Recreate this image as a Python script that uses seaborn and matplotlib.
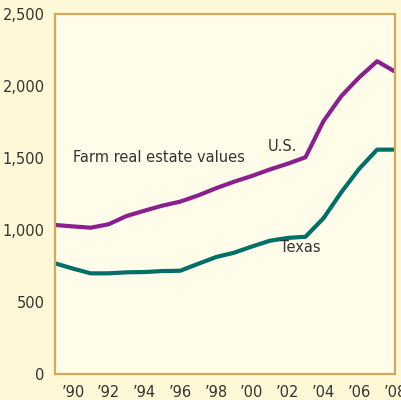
import matplotlib
matplotlib.use("Agg")
import matplotlib.pyplot as plt
import seaborn as sns
import pandas as pd
from matplotlib.ticker import MultipleLocator, FuncFormatter

years = list(range(1989, 2009))
us_values = [1035, 1025, 1016, 1040, 1097, 1134, 1169, 1197, 1240, 1290, 1335,
             1375, 1420, 1460, 1505, 1755, 1930, 2060, 2172, 2100]
texas_values = [769, 732, 699, 699, 706, 708, 715, 717, 765, 812, 842,
                885, 925, 945, 953, 1081, 1262, 1425, 1558, 1558]
series_names = ["U.S.", "Texas"]
colors = {"U.S.": "#8a1f8e", "Texas": "#006f68"}
y_ticks = [0, 500, 1000, 1500, 2000, 2500]

df = pd.DataFrame({
    "year": years * 2,
    "value": us_values + texas_values,
    "series": ["U.S."] * len(years) + ["Texas"] * len(years),
})

sns.set_style("white")
plt.rcParams['font.family'] = ['Liberation Sans Narrow', 'DejaVu Sans']

outer_bg = "#fff8d6"
inner_bg = "#fffcea"
spine_c = "#d4a85a"
text_c = "#333333"

fig = plt.figure(figsize=(4.01, 4.0), dpi=100, facecolor=outer_bg)
ax = fig.add_axes([0.137, 0.065, 0.848, 0.900])
ax.set_facecolor(inner_bg)

sns.lineplot(data=df, x="year", y="value", hue="series", hue_order=series_names,
             palette=colors, linewidth=3.0, legend=False, ax=ax)

ax.set_xlim(1989, 2008)
ax.set_ylim(0, 2500)
ax.set_yticks(y_ticks)
ax.yaxis.set_major_formatter(FuncFormatter(lambda v, p: f"{int(v):,}"))
ax.xaxis.set_major_locator(MultipleLocator(2))
ax.xaxis.set_minor_locator(MultipleLocator(1))
ax.set_xticks(list(range(1990, 2009, 2)))
ax.set_xticklabels([f"\u2019{y % 100:02d}" for y in range(1990, 2009, 2)])
ax.set_xlabel("")
ax.set_ylabel("")

for s in ax.spines.values():
    s.set_color(spine_c)
    s.set_linewidth(1.6)

ax.tick_params(axis="both", which="both", color=spine_c, width=1.6, length=6,
               labelcolor=text_c, labelsize=10.5, pad=1.5)
ax.tick_params(axis="x", which="minor", length=6, width=1.6, color=spine_c)
ax.tick_params(axis="x", which="major", pad=2)

ax.text(1990.0, 1500, "Farm real estate values", fontsize=10.5, color=text_c,
        ha="left", va="center")
ax.text(2001.7, 1580, "U.S.", fontsize=10.5, color=text_c, ha="center", va="center")
ax.text(2002.7, 875, "Texas", fontsize=10.5, color=text_c, ha="center", va="center")

fig.savefig("out.png", dpi=100, facecolor=outer_bg)
